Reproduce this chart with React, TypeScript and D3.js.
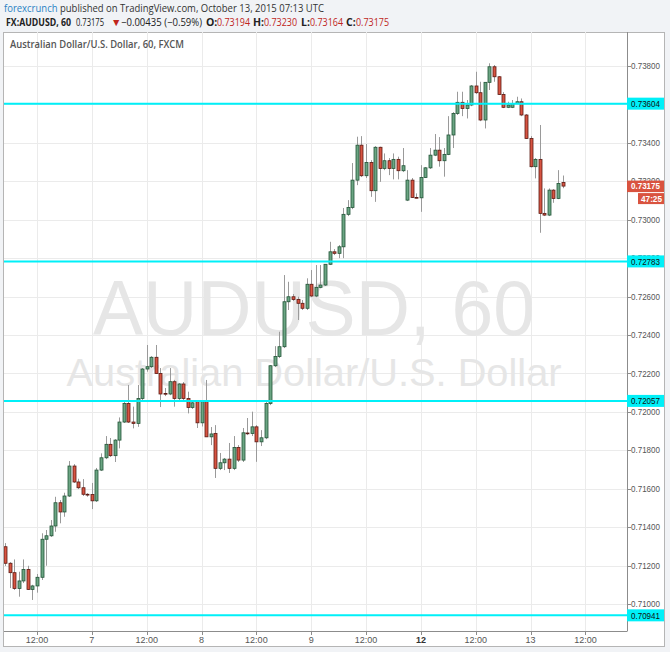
import React from 'react';
import * as d3 from 'd3';

// ---- Data (AUDUSD hourly, FXCM) ----
const opens = [
  0.71298, 0.71212, 0.71163, 0.71081, 0.71120, 0.71180, 0.71076, 0.71094, 0.71139, 0.71337,
  0.71355, 0.71406, 0.71527, 0.71479, 0.71562, 0.71718, 0.71635, 0.71605, 0.71571, 0.71570,
  0.71537, 0.71697, 0.71761, 0.71831, 0.71772, 0.71853, 0.71947, 0.72044, 0.71947, 0.71940,
  0.72070, 0.72223, 0.72235, 0.72284, 0.72200, 0.72096, 0.72093, 0.72157, 0.72070, 0.72145,
  0.72070, 0.72023, 0.72053, 0.71943, 0.72053, 0.71870, 0.71888, 0.71706, 0.71735, 0.71754,
  0.71706, 0.71815, 0.71749, 0.71890, 0.71887, 0.71922, 0.71844, 0.71865, 0.72044, 0.72240,
  0.72288, 0.72339, 0.72573, 0.72599, 0.72585, 0.72565, 0.72539, 0.72664, 0.72603, 0.72648,
  0.72660, 0.72768, 0.72833, 0.72825, 0.72859, 0.73028, 0.73064, 0.73206, 0.73388, 0.73229,
  0.73298, 0.73151, 0.73377, 0.73267, 0.73307, 0.73267, 0.73314, 0.73255, 0.73102, 0.73206,
  0.73116, 0.73114, 0.73220, 0.73270, 0.73336, 0.73362, 0.73307, 0.73340, 0.73441, 0.73553,
  0.73611, 0.73579, 0.73597, 0.73696, 0.73661, 0.73519, 0.73715, 0.73796, 0.73744, 0.73652,
  0.73585, 0.73585, 0.73605, 0.73614, 0.73545, 0.73423, 0.73276, 0.73314, 0.73033, 0.73024,
  0.73154, 0.73111, 0.73194,
];
const highs = [
  0.71317, 0.71218, 0.71232, 0.71168, 0.71232, 0.71199, 0.71100, 0.71156, 0.71368, 0.71385,
  0.71437, 0.71558, 0.71541, 0.71579, 0.71744, 0.71728, 0.71652, 0.71650, 0.71577, 0.71630,
  0.71708, 0.71784, 0.71874, 0.71864, 0.71858, 0.71971, 0.72051, 0.72140, 0.72027, 0.72140,
  0.72228, 0.72348, 0.72290, 0.72348, 0.72228, 0.72124, 0.72228, 0.72166, 0.72150, 0.72155,
  0.72105, 0.72061, 0.72061, 0.72061, 0.72166, 0.71921, 0.71931, 0.71786, 0.71760, 0.71838,
  0.71874, 0.71827, 0.71916, 0.71968, 0.72001, 0.71931, 0.71905, 0.72051, 0.72243, 0.72342,
  0.72417, 0.72712, 0.72677, 0.72613, 0.72599, 0.72582, 0.72695, 0.72738, 0.72764, 0.72764,
  0.72769, 0.72885, 0.72847, 0.72868, 0.73061, 0.73102, 0.73295, 0.73432, 0.73435, 0.73394,
  0.73310, 0.73383, 0.73380, 0.73345, 0.73321, 0.73345, 0.73328, 0.73373, 0.73258, 0.73217,
  0.73137, 0.73284, 0.73274, 0.73373, 0.73446, 0.73430, 0.73373, 0.73539, 0.73560, 0.73666,
  0.73666, 0.73623, 0.73701, 0.73770, 0.73718, 0.73716, 0.73814, 0.73805, 0.73748, 0.73664,
  0.73614, 0.73623, 0.73640, 0.73631, 0.73550, 0.73435, 0.73321, 0.73493, 0.73163, 0.73163,
  0.73159, 0.73258, 0.73230,
];
const lows = [
  0.71198, 0.71083, 0.71073, 0.71038, 0.71109, 0.71073, 0.71021, 0.71059, 0.71125, 0.71199,
  0.71349, 0.71376, 0.71420, 0.71454, 0.71557, 0.71630, 0.71598, 0.71562, 0.71558, 0.71494,
  0.71531, 0.71692, 0.71754, 0.71765, 0.71739, 0.71810, 0.71942, 0.71942, 0.71914, 0.71922,
  0.72061, 0.72209, 0.72228, 0.72197, 0.72025, 0.72082, 0.72087, 0.72027, 0.72061, 0.72061,
  0.71992, 0.72015, 0.71916, 0.71924, 0.71869, 0.71827, 0.71656, 0.71697, 0.71697, 0.71682,
  0.71697, 0.71739, 0.71739, 0.71879, 0.71874, 0.71740, 0.71822, 0.71858, 0.72035, 0.72233,
  0.72280, 0.72332, 0.72530, 0.72577, 0.72478, 0.72530, 0.72530, 0.72597, 0.72597, 0.72644,
  0.72655, 0.72764, 0.72816, 0.72800, 0.72800, 0.73019, 0.73055, 0.73180, 0.73222, 0.73217,
  0.73119, 0.73093, 0.73197, 0.73258, 0.73232, 0.73210, 0.73210, 0.73248, 0.73097, 0.73113,
  0.73111, 0.73041, 0.73217, 0.73264, 0.73331, 0.73276, 0.73224, 0.73336, 0.73373, 0.73545,
  0.73539, 0.73527, 0.73591, 0.73654, 0.73513, 0.73475, 0.73675, 0.73718, 0.73649, 0.73581,
  0.73581, 0.73581, 0.73602, 0.73539, 0.73420, 0.73272, 0.73215, 0.72932, 0.73019, 0.73019,
  0.73088, 0.73107, 0.73164,
];
const closes = [
  0.71212, 0.71163, 0.71081, 0.71120, 0.71180, 0.71076, 0.71094, 0.71139, 0.71337, 0.71355,
  0.71406, 0.71527, 0.71479, 0.71562, 0.71718, 0.71635, 0.71605, 0.71571, 0.71570, 0.71537,
  0.71697, 0.71761, 0.71831, 0.71772, 0.71853, 0.71947, 0.72044, 0.71947, 0.71940, 0.72070,
  0.72223, 0.72235, 0.72284, 0.72200, 0.72093, 0.72093, 0.72157, 0.72070, 0.72145, 0.72070,
  0.72023, 0.72047, 0.71943, 0.72053, 0.71870, 0.71885, 0.71706, 0.71735, 0.71754, 0.71706,
  0.71815, 0.71749, 0.71891, 0.71887, 0.71922, 0.71844, 0.71865, 0.72044, 0.72240, 0.72288,
  0.72339, 0.72573, 0.72599, 0.72585, 0.72565, 0.72539, 0.72664, 0.72603, 0.72648, 0.72660,
  0.72768, 0.72833, 0.72825, 0.72859, 0.73028, 0.73064, 0.73206, 0.73388, 0.73229, 0.73298,
  0.73151, 0.73377, 0.73267, 0.73307, 0.73267, 0.73314, 0.73255, 0.73281, 0.73206, 0.73116,
  0.73114, 0.73220, 0.73270, 0.73336, 0.73362, 0.73307, 0.73340, 0.73441, 0.73553, 0.73611,
  0.73579, 0.73597, 0.73696, 0.73661, 0.73519, 0.73715, 0.73796, 0.73744, 0.73652, 0.73585,
  0.73597, 0.73605, 0.73614, 0.73545, 0.73423, 0.73276, 0.73314, 0.73033, 0.73024, 0.73154,
  0.73111, 0.73189, 0.73175,
];

// trading sessions (UTC hours), second one extends past the last bar for the axis
const sessionStarts = ['2015-10-06T05:00:00Z', '2015-10-11T21:00:00Z'];
const sessionEnds = ['2015-10-09T20:00:00Z', '2015-10-13T14:00:00Z'];

const xTickTimes = [
  '2015-10-06T12:00:00Z', '2015-10-07T00:00:00Z', '2015-10-07T12:00:00Z', '2015-10-08T00:00:00Z',
  '2015-10-08T12:00:00Z', '2015-10-09T00:00:00Z', '2015-10-09T12:00:00Z', '2015-10-12T00:00:00Z',
  '2015-10-12T12:00:00Z', '2015-10-13T00:00:00Z', '2015-10-13T12:00:00Z',
];
const xTickLabels = ['12:00', '7', '12:00', '8', '12:00', '9', '12:00', '12', '12:00', '13', '12:00'];
const xTickBold = [false, false, false, false, false, false, false, true, false, false, false];

const yTicks = [0.710, 0.712, 0.714, 0.716, 0.718, 0.720, 0.722, 0.724, 0.726, 0.728, 0.730, 0.732, 0.734, 0.736, 0.738];
const levels = [0.73604, 0.72783, 0.72057, 0.70941];
const lastPrice = 0.73175;
const countdown = '47:25';

const UP_FILL = '#6ba583';
const UP_LINE = '#225437';
const DN_FILL = '#d75442';
const DN_LINE = '#5b1a13';

export default function App() {
  const W = 670, H = 652;
  const plotL = 4, plotR = 627, plotT = 32, plotB = 631;

  const slots: Date[] = [];
  sessionStarts.forEach((s, i) => {
    d3.utcHour.range(new Date(s), d3.utcHour.offset(new Date(sessionEnds[i]), 1)).forEach(t => slots.push(t));
  });
  const idxOf = (iso: string) => slots.findIndex(t => +t === +new Date(iso));

  const x = d3.scaleLinear().domain([0, 122]).range([5, 562.6]);
  const y = d3.scaleLinear().domain([0.710, 0.738]).range([604, 66]);

  const font = "'Liberation Sans', Arial, sans-serif";
  const hfont = "'Open Sans', 'Noto Sans', sans-serif";
  const fmt = d3.format('.5f');

  // a tick label is fully hidden when a level label sits right on it
  const tickShown = (v: number) => !levels.some(l => Math.abs(y(l) - y(v)) < 2);

  return (
    <svg width={W} height={H} style={{ position: 'absolute', left: 0, top: 0 }} fontFamily={font}>
      <defs>
        <clipPath id="plot">
          <rect x={plotL} y={plotT} width={plotR - plotL} height={plotB - plotT} />
        </clipPath>
      </defs>
      <rect x={0} y={0} width={W} height={H} fill="#f1f3f6" />
      {/* header */}
      <text x={4} y={12} fontSize={11} fontFamily={hfont} textLength={320} lengthAdjust="spacingAndGlyphs" fill="#333">
        <tspan fill="#2a82c4">forexcrunch</tspan>
        <tspan> published on TradingView.com, October 13, 2015 07:13 UTC</tspan>
      </text>
      <text x={6} y={26} fontSize={10.5} fontFamily={hfont} fill="#222">
        <tspan fontWeight="bold" textLength={65} lengthAdjust="spacingAndGlyphs">FX:AUDUSD, 60</tspan>
        <tspan x={76} textLength={28} lengthAdjust="spacingAndGlyphs">0.73175</tspan>
        <tspan x={111} fill="#c0261c">▼</tspan>
        <tspan x={121} textLength={81} lengthAdjust="spacingAndGlyphs">−0.00435 (−0.59%)</tspan>
        <tspan x={206} fontWeight="bold">O:</tspan>
        <tspan x={217} fill="#c0261c" textLength={33} lengthAdjust="spacingAndGlyphs">0.73194</tspan>
        <tspan x={253} fontWeight="bold">H:</tspan>
        <tspan x={264} fill="#c0261c" textLength={33} lengthAdjust="spacingAndGlyphs">0.73230</tspan>
        <tspan x={301} fontWeight="bold">L:</tspan>
        <tspan x={310} fill="#c0261c" textLength={33} lengthAdjust="spacingAndGlyphs">0.73164</tspan>
        <tspan x={346} fontWeight="bold">C:</tspan>
        <tspan x={356} fill="#c0261c" textLength={33} lengthAdjust="spacingAndGlyphs">0.73175</tspan>
      </text>

      {/* chart box */}
      <rect x={3.5} y={plotT + 0.5} width={661} height={646 - plotT} fill="#fff" stroke="#b5b5b5" />

      {/* grid */}
      <g stroke="#ebebeb" strokeWidth={1}>
        {yTicks.map(v => (
          <line key={'gy' + v} x1={plotL} x2={plotR} y1={Math.round(y(v)) + 0.5} y2={Math.round(y(v)) + 0.5} />
        ))}
        {xTickTimes.map(t => (
          <line key={'gx' + t} x1={Math.round(x(idxOf(t))) + 0.5} x2={Math.round(x(idxOf(t))) + 0.5} y1={plotT} y2={plotB} />
        ))}
      </g>

      {/* watermark */}
      <g fill="#e6e6e6">
        <text x={314} y={335} fontSize={77} textAnchor="middle" textLength={442} lengthAdjust="spacingAndGlyphs">AUDUSD, 60</text>
        <text x={314} y={386} fontSize={39} textAnchor="middle" textLength={495} lengthAdjust="spacingAndGlyphs">Australian Dollar/U.S. Dollar</text>
      </g>

      <text x={10} y={48} fontSize={10.5} fontFamily={hfont} fontWeight={600} fill="#555" textLength={174} lengthAdjust="spacingAndGlyphs">Australian Dollar/U.S. Dollar, 60, FXCM</text>

      {/* candles */}
      <g clipPath="url(#plot)">
        {closes.map((c, i) => {
          const o = opens[i];
          const up = c >= o;
          const cx = Math.round(x(i)) + 0.5;
          const top = y(Math.max(o, c));
          const bot = y(Math.min(o, c));
          return (
            <g key={'c' + i}>
              <line x1={cx} x2={cx} y1={y(highs[i])} y2={y(lows[i])} stroke="#9a9a9a" strokeWidth={1} />
              <rect x={cx - 1.5} y={top} width={3} height={Math.max(bot - top, 0.8)}
                fill={up ? UP_FILL : DN_FILL} stroke={up ? UP_LINE : DN_LINE} strokeWidth={0.8} />
            </g>
          );
        })}
      </g>

      {/* levels */}
      <g>
        {levels.map(l => (
          <line key={'lv' + l} x1={plotL} x2={plotR} y1={y(l)} y2={y(l)} stroke="#00f0f8" strokeWidth={2} />
        ))}
      </g>

      {/* axes lines */}
      <line x1={plotR + 0.5} x2={plotR + 0.5} y1={plotT} y2={plotB} stroke="#8c8c8c" />
      <line x1={plotL} x2={plotR + 0.5} y1={plotB + 0.5} y2={plotB + 0.5} stroke="#8c8c8c" />

      {/* y ticks */}
      <g fontSize={9} fill="#555">
        {yTicks.filter(tickShown).map(v => (
          <g key={'yt' + v}>
            <line x1={plotR} x2={plotR + 4} y1={Math.round(y(v)) + 0.5} y2={Math.round(y(v)) + 0.5} stroke="#8c8c8c" />
            <text x={631} y={y(v) + 3.2} textLength={29} lengthAdjust="spacingAndGlyphs">{fmt(v)}</text>
          </g>
        ))}
      </g>

      {/* x ticks */}
      <g fontSize={9} fill="#555" textAnchor="middle">
        {xTickTimes.map((t, i) => (
          <g key={'xt' + t}>
            <line x1={Math.round(x(idxOf(t))) + 0.5} x2={Math.round(x(idxOf(t))) + 0.5} y1={plotB} y2={plotB + 4} stroke="#8c8c8c" />
            <text x={x(idxOf(t))} y={643} fontWeight={xTickBold[i] ? 'bold' : 'normal'} fill={xTickBold[i] ? '#333' : '#555'}>{xTickLabels[i]}</text>
          </g>
        ))}
      </g>

      {/* level labels */}
      {levels.map(l => (
        <g key={'ll' + l}>
          <rect x={plotR} y={y(l) - 6} width={37} height={12} fill="#00f0f8" />
          <text x={631} y={y(l) + 3.3} fontSize={9} fill="#111" textLength={29} lengthAdjust="spacingAndGlyphs">{fmt(l)}</text>
        </g>
      ))}

      {/* last price label */}
      <rect x={plotR} y={y(lastPrice) - 5.5} width={37} height={11.5} fill="#d9533f" />
      <text x={631} y={y(lastPrice) + 3.3} fontSize={9} fill="#fff" fontWeight="bold" textLength={29} lengthAdjust="spacingAndGlyphs">{fmt(lastPrice)}</text>
      <rect x={638} y={y(lastPrice) + 7} width={26} height={11} fill="#d9533f" />
      <text x={641} y={y(lastPrice) + 15.5} fontSize={9} fill="#fff" fontWeight="bold" textLength={21} lengthAdjust="spacingAndGlyphs">{countdown}</text>
    </svg>
  );
}
